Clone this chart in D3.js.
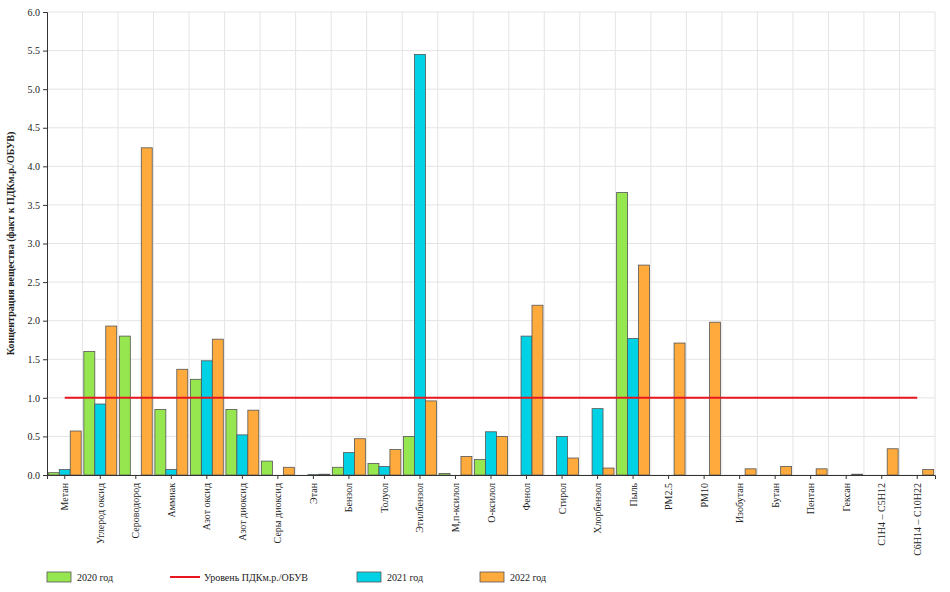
<!DOCTYPE html><html><head><meta charset="utf-8"><script src="https://cdn.jsdelivr.net/npm/d3@7"></script>
<style>body{margin:0;background:#fff}text{font-family:"Liberation Serif",serif;font-size:10px;fill:#222}</style></head><body><svg id="c" width="950" height="592"></svg><script>
const categories=["Метан","Углерод оксид","Сероводород","Аммиак","Азот оксид","Азот диоксид","Серы диоксид","Этан","Бензол","Толуол","Этилбензол","М,п-ксилол","О-ксилол","Фенол","Стирол","Хлорбензол","Пыль","РМ2.5","РМ10","Изобутан","Бутан","Пентан","Гексан","С1Н4 – С5Н12","С6Н14 – С10Н22"];
const y2020=[0.03,1.6,1.8,0.85,1.24,0.85,0.18,0,0.1,0.15,0.5,0.02,0.2,0,0,0,3.66,0,0,0,0,0,0,0,0];
const y2021=[0.07,0.92,0,0.07,1.48,0.52,0,0.005,0.29,0.11,5.45,0,0.56,1.8,0.5,0.86,1.77,0,0,0,0,0,0,0,0];
const y2022=[0.57,1.93,4.24,1.37,1.76,0.84,0.1,0.01,0.47,0.33,0.96,0.24,0.5,2.2,0.22,0.09,2.72,1.71,1.98,0.08,0.11,0.08,0.01,0.34,0.07];
const limit=1.0;
const yTicks=d3.range(0,6.01,0.5);
const series=[{name:"2020 год",v:y2020,c:"#96e650"},{name:"2021 год",v:y2021,c:"#00d2e6"},{name:"2022 год",v:y2022,c:"#ffaa3c"}];
const svg=d3.select("#c"),L=47,R=935,T=12,B=475;
const x=d3.scaleBand().domain(categories).range([L,R]);
const xi=d3.scaleBand().domain([0,1,2]).range([0,x.bandwidth()]).paddingOuter(0.12);
const y=d3.scaleLinear().domain([0,6]).range([B,T]);
const g=svg.append("g");
g.selectAll(".h").data(yTicks).join("line").attr("x1",L).attr("x2",R).attr("y1",d=>y(d)).attr("y2",d=>y(d)).attr("stroke","#e4e4e4");
g.selectAll(".v").data(categories.slice(1)).join("line").attr("x1",d=>x(d)).attr("x2",d=>x(d)).attr("y1",T).attr("y2",B).attr("stroke","#e4e4e4");
g.append("line").attr("x1",R).attr("x2",R).attr("y1",T).attr("y2",B).attr("stroke","#e4e4e4");
series.forEach((s,i)=>{svg.append("g").selectAll("rect").data(s.v).join("rect")
 .attr("x",(d,j)=>x(categories[j])+xi(i)).attr("width",xi.bandwidth()).attr("y",d=>y(d)).attr("height",d=>B-y(d))
 .attr("fill",s.c).attr("stroke",d=>d>0?"#555":"none").attr("stroke-width",0.8);});
svg.append("line").attr("x1",x(categories[0])+x.bandwidth()/2).attr("x2",x(categories[categories.length-1])+x.bandwidth()/2)
 .attr("y1",y(limit)).attr("y2",y(limit)).attr("stroke","#e8141e").attr("stroke-width",2);
const ya=svg.append("g").attr("transform",`translate(${L},0)`).call(d3.axisLeft(y).tickValues(yTicks).tickFormat(d3.format(".1f")).tickSize(4));
const xa=svg.append("g").attr("transform",`translate(0,${B})`).call(d3.axisBottom(x).tickSize(4));
xa.selectAll("text").attr("transform","rotate(-90)").attr("text-anchor","end").attr("x",-8).attr("y",0).attr("dy","0.35em");
svg.selectAll(".domain").attr("stroke","#333");svg.selectAll(".tick line").attr("stroke","#333");
svg.append("text").attr("transform",`translate(14,${(T+B)/2}) rotate(-90)`).attr("text-anchor","middle").style("font-weight","bold").text("Концентрация вещества (факт к ПДКм.р./ОБУВ)");
const lg=svg.append("g").attr("transform","translate(0,577)");
[[47,"2020 год","#96e650"],[357,"2021 год","#00d2e6"],[480,"2022 год","#ffaa3c"]].forEach(([px,t,c])=>{
 lg.append("rect").attr("x",px).attr("y",-5).attr("width",24).attr("height",10).attr("fill",c).attr("stroke","#555").attr("stroke-width",0.8);
 lg.append("text").attr("x",px+30).attr("y",3.5).text(t);});
lg.append("line").attr("x1",170).attr("x2",200).attr("stroke","#e8141e").attr("stroke-width",2);
lg.append("text").attr("x",204).attr("y",3.5).text("Уровень ПДКм.р./ОБУВ");
</script></body></html>
